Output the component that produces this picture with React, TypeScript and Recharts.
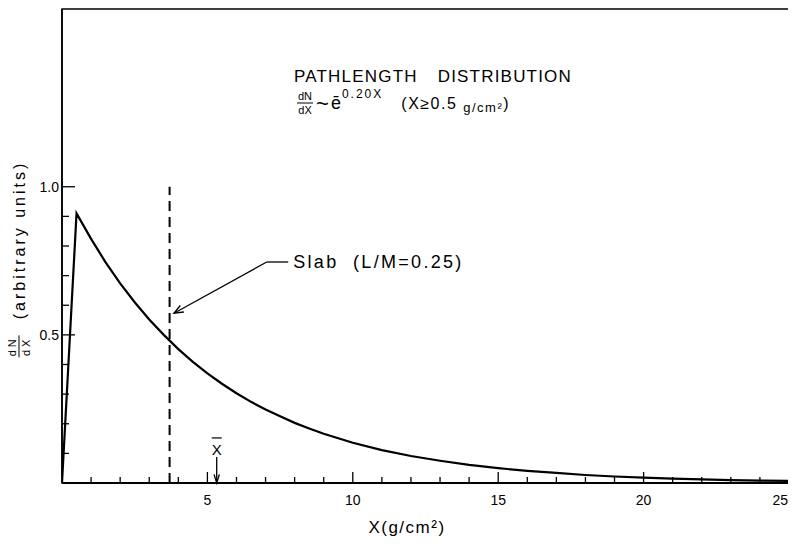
import React from 'react';
import { LineChart, Line, XAxis, YAxis, ReferenceLine, ReferenceArea } from 'recharts';

// Pathlength values (x in g/cm^2, dN/dX in arbitrary units)
const xValues = [0, 0.5, 1, 1.5, 2, 2.5, 3, 3.5, 4, 4.5, 5, 5.5, 6, 6.5, 7, 7.5, 8, 8.5, 9, 9.5, 10, 11, 12, 13, 14, 15, 16, 17, 18, 19, 20, 21, 22, 23, 24, 25];
const yValues = [0, 0.91, 0.824, 0.745, 0.674, 0.61, 0.552, 0.5, 0.452, 0.409, 0.37, 0.335, 0.303, 0.274, 0.248, 0.225, 0.203, 0.184, 0.166, 0.151, 0.136, 0.111, 0.091, 0.075, 0.061, 0.05, 0.041, 0.034, 0.027, 0.022, 0.018, 0.015, 0.012, 0.01, 0.008, 0.007];

const xTicks = [1, 2, 3, 4, 5, 6, 7, 8, 9, 10, 11, 12, 13, 14, 15, 16, 17, 18, 19, 20, 21, 22, 23, 24, 25];
const xLabeled = [5, 10, 15, 20, 25];
const yTicks = [0.1, 0.2, 0.3, 0.4, 0.5, 0.6, 0.7, 0.8, 0.9, 1.0];
const yLabeled = ['0.5', '1.0'];

const slabX = 3.7;
const slabTop = 1.0;
const slabLabel = 'Slab  (L/M=0.25)';
const slabArrowFrom = { x: 7.04, y: 0.746 };
const slabArrowTo = { x: 3.85, y: 0.573 };
const slabLeaderEnd = { x: 7.78, y: 0.746 };
const meanX = 5.32;
const meanArrowTop = 0.088;

const data = xValues.map((x, i) => ({ x, y: yValues[i] }));

const FONT = '"Liberation Sans", Arial, sans-serif';

const XTick = (props: any) => {
  const { x, y, payload } = props;
  const v = payload.value;
  const major = v % 5 === 0;
  const labeled = xLabeled.includes(v);
  return (
    <g>
      {v < 25 && (
        <line x1={x} x2={x} y1={y} y2={y - (major ? 11 : 6)} stroke="#000" strokeWidth={1.3} />
      )}
      {labeled && (
        <text
          x={v === 25 ? x - 1 : x}
          y={y + 22}
          textAnchor={v === 25 ? 'end' : 'middle'}
          fontSize={14}
          fontFamily={FONT}
          fill="#000"
        >
          {v}
        </text>
      )}
    </g>
  );
};

const YTick = (props: any) => {
  const { x, y, payload } = props;
  const label = Number(payload.value).toFixed(1);
  const major = yLabeled.includes(label);
  return (
    <g>
      <line x1={x} x2={x + (major ? 13 : 7)} y1={y} y2={y} stroke="#000" strokeWidth={1.3} />
      {major && (
        <text x={x - 3} y={y + 5} textAnchor="end" fontSize={14} fontFamily={FONT} fill="#000">
          {label}
        </text>
      )}
    </g>
  );
};

const arrowHead = (x1: number, y1: number, x2: number, y2: number, L = 10, a = 0.38) => {
  const ang = Math.atan2(y2 - y1, x2 - x1);
  const p1 = `${x2 - L * Math.cos(ang - a)},${y2 - L * Math.sin(ang - a)}`;
  const p2 = `${x2 - L * Math.cos(ang + a)},${y2 - L * Math.sin(ang + a)}`;
  return `${p1} ${x2},${y2} ${p2}`;
};

const ArrowShape = (props: any) => {
  const { x1, y1, x2, y2 } = props;
  return (
    <g>
      <line x1={x1} y1={y1} x2={x2} y2={y2} stroke="#000" strokeWidth={1.3} />
      <polyline points={arrowHead(x1, y1, x2, y2)} fill="none" stroke="#000" strokeWidth={1.3} />
    </g>
  );
};

const LeaderShape = (props: any) => {
  const { x1, y1, x2, y2 } = props;
  return (
    <g>
      <line x1={x1} y1={y1} x2={x2} y2={y2} stroke="#000" strokeWidth={1.3} />
      <text
        x={x2 + 5}
        y={y2 + 6}
        fontSize={18}
        fontFamily={FONT}
        fill="#000"
        letterSpacing={2.3}
        style={{ whiteSpace: 'pre' }}
      >
        {slabLabel}
      </text>
    </g>
  );
};

const MeanShape = (props: any) => {
  const { x1, y1, x2, y2 } = props;
  return (
    <g>
      <line x1={x1} y1={y1} x2={x2} y2={y2} stroke="#000" strokeWidth={1.3} />
      <polyline points={arrowHead(x1, y1, x2, y2, 9, 0.3)} fill="none" stroke="#000" strokeWidth={1.3} />
      <text x={x1} y={y1 - 2} textAnchor="middle" fontSize={15} fontFamily={FONT} fill="#000">
        X
      </text>
      <line x1={x1 - 5} x2={x1 + 5} y1={y1 - 19} y2={y1 - 19} stroke="#000" strokeWidth={1.2} />
    </g>
  );
};

const Frac = ({ num, den, size }: { num: string; den: string; size: number }) => (
  <span
    style={{
      display: 'inline-flex',
      flexDirection: 'column',
      alignItems: 'center',
      verticalAlign: 'middle',
      fontSize: size,
      lineHeight: 1,
    }}
  >
    <span style={{ borderBottom: '1px solid #000', padding: '0 1px 1px' }}>{num}</span>
    <span style={{ paddingTop: 1 }}>{den}</span>
  </span>
);

export default function App() {
  return (
    <div
      style={{
        position: 'relative',
        width: 788,
        height: 530,
        fontFamily: FONT,
        color: '#000',
      }}
    >
      <LineChart width={788} height={530} data={data} margin={{ top: 1, right: 7, left: 0, bottom: 0 }}>
        <XAxis
          dataKey="x"
          type="number"
          domain={[0, 25]}
          ticks={xTicks}
          interval={0}
          tick={<XTick />}
          tickSize={0}
          tickMargin={0}
          tickLine={false}
          axisLine={{ stroke: '#000', strokeWidth: 2 }}
          height={55}
          allowDataOverflow
        />
        <YAxis
          type="number"
          domain={[0, 1.6]}
          ticks={yTicks}
          interval={0}
          tick={<YTick />}
          tickSize={0}
          tickMargin={0}
          tickLine={false}
          axisLine={{ stroke: '#000', strokeWidth: 1.6 }}
          width={54}
          allowDataOverflow
        />
        <ReferenceArea x1={0} x2={25} y1={0} y2={1.6} fill="none" stroke="#000" strokeWidth={1.5} ifOverflow="visible" />
        <ReferenceLine
          segment={[{ x: slabX, y: 0 }, { x: slabX, y: slabTop }]}
          stroke="#000"
          strokeWidth={2}
          strokeDasharray="10 6"
          ifOverflow="visible"
        />
        <Line
          type="linear"
          dataKey="y"
          stroke="#000"
          strokeWidth={2.2}
          dot={false}
          isAnimationActive={false}
        />
        <ReferenceLine segment={[slabArrowFrom, slabArrowTo]} shape={ArrowShape} ifOverflow="visible" />
        <ReferenceLine segment={[slabArrowFrom, slabLeaderEnd]} shape={LeaderShape} ifOverflow="visible" />
        <ReferenceLine
          segment={[{ x: meanX, y: meanArrowTop }, { x: meanX, y: 0 }]}
          shape={MeanShape}
          ifOverflow="visible"
        />
      </LineChart>

      <div
        style={{
          position: 'absolute',
          left: 425,
          top: 69,
          transform: 'translate(-50%, -50%)',
          fontSize: 17,
          letterSpacing: 1.2,
          wordSpacing: 14,
          whiteSpace: 'nowrap',
        }}
      >
        PATHLENGTH DISTRIBUTION
      </div>

      <div
        style={{
          position: 'absolute',
          left: 289,
          top: 95,
          transform: 'translateY(-50%)',
          whiteSpace: 'nowrap',
          display: 'flex',
          alignItems: 'center',
          fontSize: 16,
        }}
      >
        <Frac num="dN" den="dX" size={11} />
        <span style={{ margin: '0 2px 0 3px', fontSize: 22, lineHeight: 1 }}>~</span>
        <span style={{ display: 'inline-flex', alignItems: 'flex-start' }}>
          <span style={{ fontSize: 18 }}>ē</span>
          <span style={{ fontSize: 12, letterSpacing: 2, marginTop: -6, marginLeft: 1 }}>0.20X</span>
        </span>
        <span style={{ marginLeft: 18, letterSpacing: 1.5, fontSize: 16 }}>
          (X≥0.5 <span style={{ fontSize: 13, position: 'relative', top: 3 }}>g/cm²</span>)
        </span>
      </div>

      <div
        style={{
          position: 'absolute',
          left: 11,
          top: 251,
          transform: 'translate(-50%, -50%) rotate(-90deg)',
          whiteSpace: 'nowrap',
          display: 'flex',
          alignItems: 'center',
          fontSize: 16,
          letterSpacing: 3,
        }}
      >
        <Frac num="dN" den="dX" size={11} />
        <span style={{ marginLeft: 16 }}>(arbitrary units)</span>
      </div>

      <div
        style={{
          position: 'absolute',
          left: 399,
          top: 520,
          transform: 'translate(-50%, -50%)',
          whiteSpace: 'nowrap',
          fontSize: 17,
          letterSpacing: 1.5,
        }}
      >
        X(g/cm²)
      </div>
    </div>
  );
}
